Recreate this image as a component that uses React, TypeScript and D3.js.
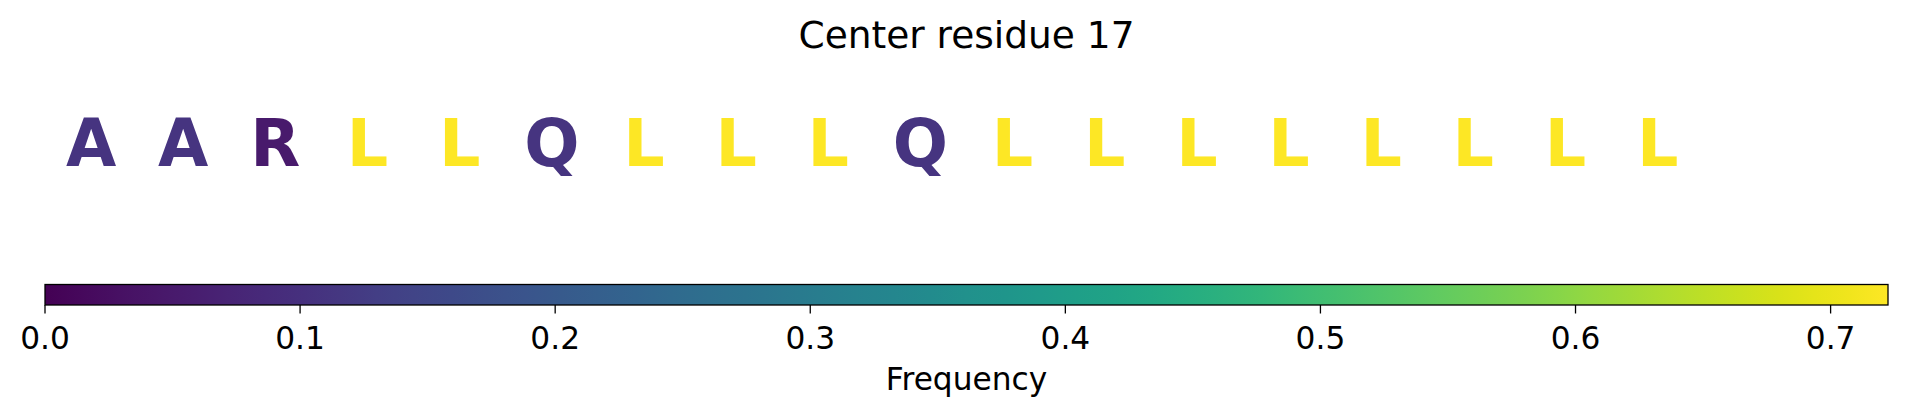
import React from "react";
import * as d3 from "d3";

const residues: string[] = ["A", "A", "R", "L", "L", "Q", "L", "L", "L", "Q", "L", "L", "L", "L", "L", "L", "L", "L"];
const frequencies: number[] = [0.11, 0.11, 0.05, 0.7225, 0.7225, 0.11, 0.7225, 0.7225, 0.7225, 0.11, 0.7225, 0.7225, 0.7225, 0.7225, 0.7225, 0.7225, 0.7225, 0.7225];
const colorMin = 0;
const colorMax = 0.7225;
const tickValues: number[] = [0, 0.1, 0.2, 0.3, 0.4, 0.5, 0.6, 0.7];
const titleText = "Center residue 17";
const cbarLabel = "Frequency";
const windowSize = 20;

const W = 1907;
const H = 416;
const left = 45;
const right = 1888;
const cbTop = 284.5;
const cbBottom = 305;

export default function App() {
  const x = d3.scaleLinear().domain([0, windowSize]).range([left, right]);
  const cx = d3.scaleLinear().domain([colorMin, colorMax]).range([left, right]);
  const color = d3.scaleSequential(d3.interpolateViridis).domain([colorMin, colorMax]);
  const stops = d3.range(0, 1.0001, 0.02);
  const font = "'DejaVu Sans', sans-serif";
  return (
    <svg width={W} height={H} style={{ position: "absolute", left: 0, top: 0, background: "#fff" }}>
      <defs>
        <linearGradient id="vir" x1="0" x2="1" y1="0" y2="0">
          {stops.map((t, i) => (
            <stop key={i} offset={t} stopColor={d3.interpolateViridis(t)} />
          ))}
        </linearGradient>
      </defs>
      <text x={(left + right) / 2} y={47.5} textAnchor="middle" fontFamily={font} fontSize={37.5} fill="#000">
        {titleText}
      </text>
      {residues.map((r, i) => (
        <text
          key={i}
          x={x(i + 0.5)}
          y={166}
          textAnchor="middle"
          fontFamily={font}
          fontWeight="bold"
          fontSize={65}
          fill={color(frequencies[i])}
        >
          {r}
        </text>
      ))}
      <rect x={left} y={cbTop} width={right - left} height={cbBottom - cbTop} fill="url(#vir)" stroke="#000" strokeWidth={1.3} />
      {tickValues.map((t, i) => (
        <g key={i} transform={`translate(${cx(t)},0)`}>
          <line y1={cbBottom} y2={cbBottom + 8.5} stroke="#000" strokeWidth={1.3} />
          <text y={349} textAnchor="middle" fontFamily={font} fontSize={31.25} fill="#000">
            {d3.format(".1f")(t)}
          </text>
        </g>
      ))}
      <text x={(left + right) / 2} y={390} textAnchor="middle" fontFamily={font} fontSize={31.25} fill="#000">
        {cbarLabel}
      </text>
    </svg>
  );
}
